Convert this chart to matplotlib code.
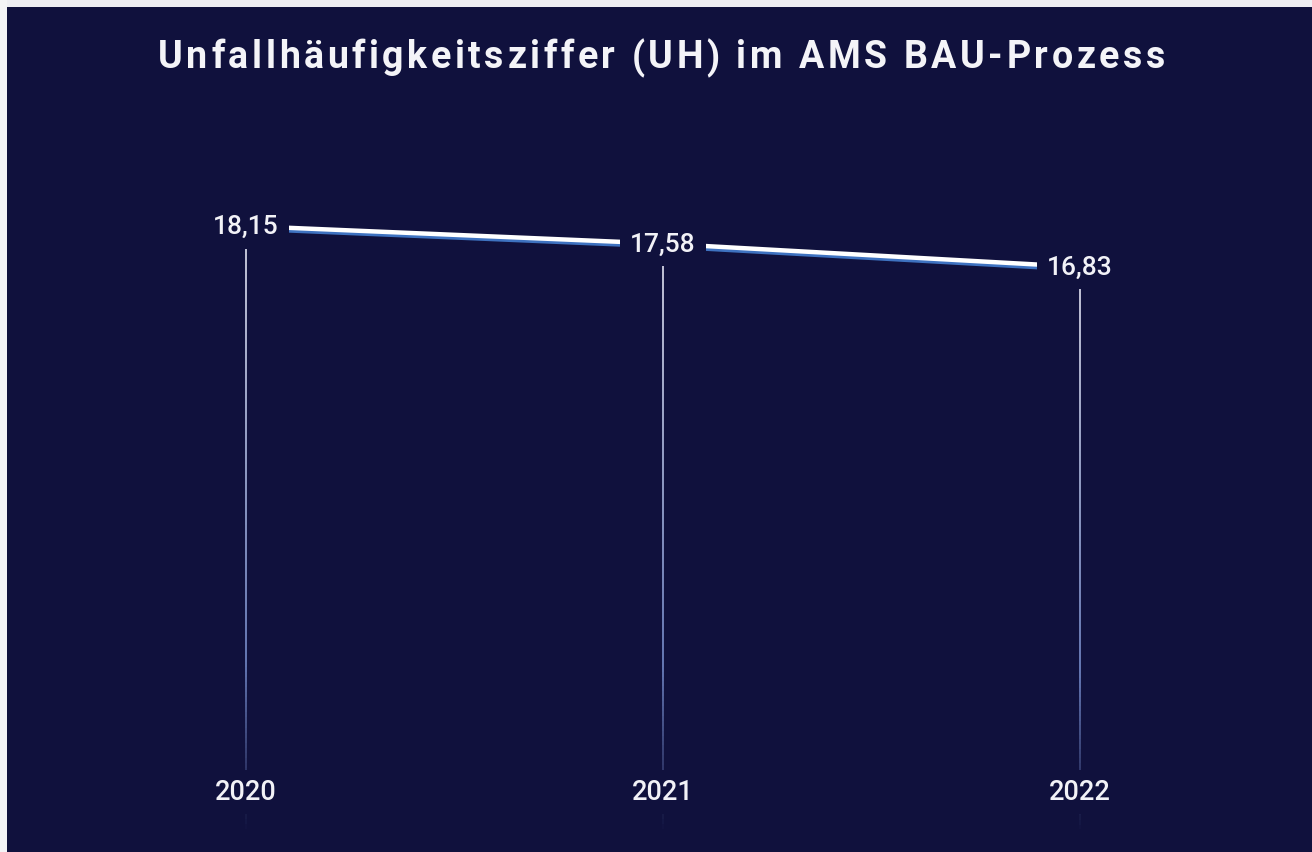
import matplotlib
matplotlib.use("Agg")
import matplotlib.pyplot as plt
import matplotlib.transforms as mtransforms
from matplotlib.collections import LineCollection
from matplotlib.patches import Rectangle
import numpy as np

years = ["2020", "2021", "2022"]
values = [18.15, 17.58, 16.83]
value_labels = ["18,15", "17,58", "16,83"]
title = "Unfallhäufigkeitsziffer (UH) im AMS BAU-Prozess"

BG = "#10113d"
W, H = 1312, 853
fig = plt.figure(figsize=(W / 100, H / 100), dpi=100)
fig.patch.set_facecolor(BG)

ax = fig.add_axes([0, 0, 1, 1])
ax.set_facecolor(BG)
ax.axis("off")
ppx = 417.0
ax.set_xlim(-246 / ppx, 2 + (W - 1080) / ppx)
ppy = 31.0
ax.set_ylim(18.15 - (H - 227) / ppy, 18.15 + 227 / ppy)

x = np.arange(len(years))

# vertical gradient lines
trans = mtransforms.blended_transform_factory(ax.transData, ax.transAxes)
y_bottom_ax = 1 - 835 / H
top_col = np.array([0.84, 0.84, 0.90])
mid_col = np.array([0.42, 0.50, 0.74])
bg_col = np.array(matplotlib.colors.to_rgb(BG))
for xi, v in zip(x, values):
    yv_ax = ax.transAxes.inverted().transform(ax.transData.transform((xi, v)))[1]
    n = 120
    ys = np.linspace(yv_ax, y_bottom_ax, n + 1)
    segs = [[(xi, ys[i]), (xi, ys[i + 1])] for i in range(n)]
    t = np.linspace(0, 1, n)
    cols = []
    for ti in t:
        if ti < 0.72:
            c = top_col + (mid_col - top_col) * (ti / 0.72)
        else:
            c = mid_col + (bg_col - mid_col) * ((ti - 0.72) / 0.28)
        cols.append(tuple(c))
    lc = LineCollection(segs, colors=cols, linewidths=1.3, transform=trans, zorder=1)
    ax.add_collection(lc)

# main line: blue shadow + white top
offset = mtransforms.offset_copy(ax.transData, fig=fig, x=0, y=-2.5, units="dots")
ax.plot(x, values, color="#3e72c0", lw=3.4, transform=offset, zorder=2,
        solid_capstyle="butt")
ax.plot(x, values, color="white", lw=3.2, zorder=3, solid_capstyle="butt")

# value labels
for xi, v, lab in zip(x, values, value_labels):
    ax.text(xi, v, lab, ha="center", va="center", color="#f2f2f7",
            fontsize=19, family="Roboto", fontweight="medium", zorder=5,
            bbox=dict(boxstyle="square,pad=0.4", fc=BG, ec="none"))

# year labels
for xi, yl in zip(x, years):
    ax.text(xi, 1 - 793 / H, yl, transform=trans, ha="center", va="center",
            color="#f2f2f7", fontsize=19.5, family="Roboto", fontweight="medium",
            zorder=5, bbox=dict(boxstyle="square,pad=0.3", fc=BG, ec="none"))

# title with letter spacing
renderer = fig.canvas.get_renderer()
tprops = dict(color="#f4f4f8", fontsize=27, family="Roboto", fontweight="bold",
              va="center", ha="left")
def char_width(ch):
    if ch == " ":
        a = fig.text(0, 0, "a a", **tprops)
        b = fig.text(0, 0, "aa", **tprops)
        w = a.get_window_extent(renderer).width - b.get_window_extent(renderer).width
        a.remove(); b.remove()
        return w
    t = fig.text(0, 0, ch, **tprops)
    w = t.get_window_extent(renderer).width
    t.remove()
    return w
widths = [char_width(c) for c in title]
x0, x1 = 158.0, 1165.0
spacing = ((x1 - x0) - sum(widths)) / (len(title) - 1)
cx = x0
for ch, w in zip(title, widths):
    if ch != " ":
        fig.text(cx / W, 1 - 58 / H, ch, **tprops)
    cx += w + spacing

# light border at top and left
fig.patches.append(Rectangle((0, 1 - 8 / H), 1, 8 / H, transform=fig.transFigure,
                             fc="#eeeef2", ec="none", zorder=10))
fig.patches.append(Rectangle((0, 0), 7 / W, 1, transform=fig.transFigure,
                             fc="#f4f4f6", ec="none", zorder=10))

fig.savefig("out.png", dpi=100, facecolor=BG)
